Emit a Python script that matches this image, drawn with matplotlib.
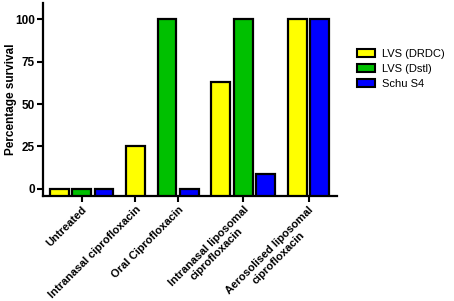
import matplotlib
matplotlib.use("Agg")
import matplotlib.pyplot as plt
from matplotlib.patches import Patch

plt.rcParams["font.family"] = ["Liberation Sans", "DejaVu Sans"]

groups = [
    "Untreated",
    "Intranasal ciprofloxacin",
    "Oral Ciprofloxacin",
    "Intranasal liposomal\nciprofloxacin",
    "Aerosolised liposomal\nciprofloxacin",
]
series = ["LVS (DRDC)", "LVS (Dstl)", "Schu S4"]
colors = ["#ffff00", "#00c000", "#0000ff"]

# None = not tested (no bar)
lvs_drdc = [0, 25, None, 63, 100]
lvs_dstl = [0, None, 100, 100, None]
schu_s4 = [0, None, 0, 9, 100]
values = [lvs_drdc, lvs_dstl, schu_s4]

ymin = -4.2
bar_w = 0.84
group_gap = 0.4

fig = plt.figure(figsize=(4.54, 3.01), dpi=100)
ax = fig.add_axes([0.095, 0.349, 0.647, 0.641])

pos = 0.0
centers = []
for g in range(len(groups)):
    xs = []
    for s in range(len(series)):
        v = values[s][g]
        if v is None:
            continue
        ax.bar(pos, v - ymin, bottom=ymin, width=bar_w, color=colors[s],
               edgecolor="black", linewidth=1.6, zorder=3)
        xs.append(pos)
        pos += 1
    centers.append(sum(xs) / len(xs))
    pos += group_gap

ax.set_xlim(-0.71, 12.36)
ax.set_ylim(ymin, 109.6)
ax.set_yticks([0, 25, 50, 75, 100])
ax.set_xticks(centers)
ax.set_xticklabels(groups, rotation=45, ha="right", va="top",
                   rotation_mode="anchor", multialignment="center",
                   fontsize=8, fontweight="bold")
for lbl in ax.get_yticklabels():
    lbl.set_fontweight("bold")
    lbl.set_fontsize(8.5)
ax.set_ylabel("Percentage survival", fontsize=8.5, fontweight="bold")
ax.yaxis.set_label_coords(-0.09, 0.5)

for side in ["top", "right"]:
    ax.spines[side].set_visible(False)
for side in ["left", "bottom"]:
    ax.spines[side].set_linewidth(1.6)
ax.tick_params(width=1.5, length=4, pad=2)

handles = [Patch(facecolor=c, edgecolor="black", linewidth=1.5) for c in colors]
fig.legend(handles, series, loc="upper left", bbox_to_anchor=(0.765, 0.87),
           frameon=False, fontsize=8, handlelength=1.6, handleheight=0.75,
           labelspacing=0.45, handletextpad=0.6)

fig.savefig("out.png", dpi=100)
